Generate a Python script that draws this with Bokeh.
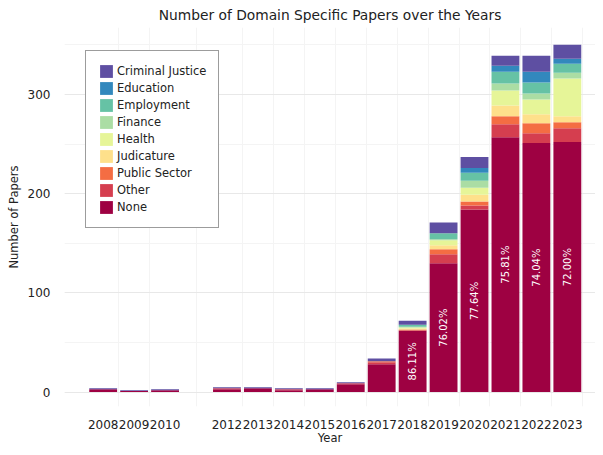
import math
from bokeh.plotting import figure
from bokeh.models import ColumnDataSource, FixedTicker, SingleIntervalTicker, Legend, LegendItem, Range1d
from bokeh.embed import file_html
from bokeh.resources import INLINE
from bokeh.core.properties import value

years = [2008, 2009, 2010, 2012, 2013, 2014, 2015, 2016, 2017, 2018, 2019, 2020, 2021, 2022, 2023]
none_ = [3, 1, 2, 3, 4, 2, 3, 8, 28, 62, 130, 184, 257, 251, 252]
other = [0, 0, 0, 1, 0, 1, 0, 1, 2, 0, 9, 4, 13, 10, 14]
public_sector = [0, 0, 0, 0, 0, 0, 0, 0, 1, 1, 5, 4, 8, 10, 6]
judicature = [0, 0, 0, 0, 0, 0, 0, 0, 0, 1, 4, 7, 11, 9, 6]
health = [0, 0, 0, 0, 0, 0, 0, 0, 0, 1, 5, 7, 15, 15, 38]
finance = [0, 0, 0, 0, 0, 0, 0, 0, 0, 1, 1, 7, 7, 6, 6]
employment = [0, 0, 0, 0, 0, 0, 0, 0, 0, 2, 6, 8, 12, 11, 9]
education = [0, 0, 0, 0, 0, 0, 0, 0, 0, 0, 0, 5, 6, 11, 5]
criminal_justice = [1, 1, 1, 1, 1, 1, 1, 1, 3, 4, 11, 11, 10, 16, 14]

domains = ["None", "Other", "Public Sector", "Judicature", "Health",
           "Finance", "Employment", "Education", "Criminal Justice"]
series = [none_, other, public_sector, judicature, health,
          finance, employment, education, criminal_justice]
colors = ["#9e0142", "#d53e4f", "#f46d43", "#fee08b", "#e6f598",
          "#abdda4", "#66c2a5", "#3288bd", "#5e4fa2"]

FONT = "DejaVu Sans"
TXT = "#222222"

data = {"year": years}
for name, vals in zip(domains, series):
    data[name] = vals
source = ColumnDataSource(data)

totals = [sum(v) for v in zip(*series)]
lab_x, lab_y, lab_t = [], [], []
for y, n, t in zip(years, none_, totals):
    if n >= 50:
        lab_x.append(y)
        lab_y.append(n / 2)
        lab_t.append("%.2f%%" % (100.0 * n / t))
lsrc = ColumnDataSource(dict(x=lab_x, y=lab_y, t=lab_t))

p = figure(width=595, height=447,
           x_range=Range1d(2006.75, 2023.91), y_range=Range1d(-14.5, 367.5),
           output_backend="svg", toolbar_location=None,
           title="Number of Domain Specific Papers over the Years",
           min_border_left=64, min_border_right=0, min_border_top=25,
           min_border_bottom=36)
p.outline_line_color = None
p.background_fill_color = "white"

p.title.text_font = FONT
p.title.text_font_size = "13.8px"
p.title.text_font_style = "normal"
p.title.text_color = TXT
p.title.align = "center"
p.title.standoff = 9
p.title.offset = -2

renderers = p.vbar_stack(domains, x="year", width=0.9, color=colors,
                         line_color=None, source=source)

p.text(x="x", y="y", text="t", source=lsrc, angle=math.pi / 2,
       text_color="white", text_font=value(FONT), text_font_size="10px",
       text_align="center", text_baseline="middle")

items = [LegendItem(label=name, renderers=[r]) for name, r in zip(domains, renderers)]
items.reverse()
legend = Legend(items=items, location=(21, 178), margin=0,
                glyph_width=16, glyph_height=16, label_height=16, spacing=1,
                padding=12, label_standoff=3,
                label_text_font=FONT, label_text_font_size="11.5px",
                label_text_color=TXT,
                border_line_color="#3a3a3a", border_line_width=1,
                background_fill_color="white", background_fill_alpha=1)
p.add_layout(legend, "center")

# axes
p.xaxis.ticker = FixedTicker(ticks=years)
p.yaxis.ticker = SingleIntervalTicker(interval=100, num_minor_ticks=2)
for ax in (p.xaxis[0], p.yaxis[0]):
    ax.axis_line_color = None
    ax.major_tick_line_color = None
    ax.minor_tick_line_color = None
    ax.major_tick_out = 0
    ax.major_tick_in = 0
    ax.minor_tick_out = 0
    ax.major_label_text_font = FONT
    ax.major_label_text_font_size = "12px"
    ax.major_label_text_color = TXT
    ax.major_label_text_line_height = 1.0
    ax.axis_label_text_font = FONT
    ax.axis_label_text_font_size = "11.5px"
    ax.axis_label_text_font_style = "normal"
    ax.axis_label_text_color = TXT
    ax.axis_label_text_line_height = 1.0
p.xaxis.axis_label = "Year"
p.yaxis.axis_label = "Number of Papers"
p.xaxis.major_label_standoff = 13
p.xaxis.axis_label_standoff = -1
p.yaxis.major_label_standoff = 14
p.yaxis.axis_label_standoff = 4

# grids
mids = [(a + b) / 2 for a, b in zip(years[:-1], years[1:])] + [years[-1] + 0.5]
p.xgrid.ticker = FixedTicker(ticks=mids)
p.xgrid.grid_line_color = "#f4f4f4"
p.ygrid.grid_line_color = "#e8e8e8"
p.ygrid.minor_grid_line_color = "#f4f4f4"

open("out.html", "w").write(file_html(p, INLINE))
